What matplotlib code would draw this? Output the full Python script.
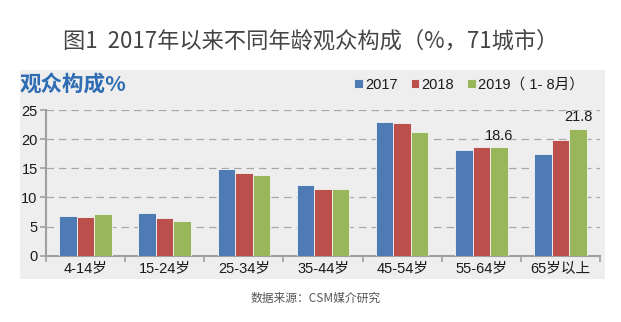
import matplotlib
matplotlib.use("Agg")
import matplotlib.pyplot as plt
import numpy as np
from matplotlib.patches import Rectangle

plt.rcParams['font.family'] = ['Noto Sans CJK SC', 'DejaVu Sans']
ARIAL = ['Liberation Sans', 'Noto Sans CJK SC']

categories = ["4-14岁", "15-24岁", "25-34岁", "35-44岁", "45-54岁", "55-64岁", "65岁以上"]
series_names = ["2017", "2018", "2019（ 1- 8月）"]
v2017 = [6.8, 7.4, 14.9, 12.1, 22.9, 18.2, 17.4]
v2018 = [6.7, 6.5, 14.2, 11.5, 22.7, 18.7, 19.8]
v2019 = [7.1, 5.9, 13.8, 11.4, 21.3, 18.6, 21.8]
yticks = [0, 5, 10, 15, 20, 25]
colors = ["#4F7BB5", "#BA4F4B", "#9AB65A"]

W, H = 621, 322
fig = plt.figure(figsize=(W / 100, H / 100), dpi=100)
fig.patch.set_facecolor("white")

# grey panel
fig.patches.append(Rectangle((20 / W, 1 - 279 / H), 585 / W, 209 / H,
                             transform=fig.transFigure, facecolor="#EEEEEE",
                             edgecolor="none", zorder=0))

ax = fig.add_axes([46 / W, 1 - 255.7 / H, 554 / W, (255.7 - 110) / H])
ax.set_facecolor("none")
ax.set_zorder(2)

x = np.arange(len(categories))
bw = 0.222
for i, (vals, c, name) in enumerate(zip([v2017, v2018, v2019], colors, series_names)):
    ax.bar(x + (i - 1) * bw, vals, width=bw, color=c, edgecolor="#F4F4F4",
           linewidth=0.6, label=name, zorder=3)

# data labels
for idx in [5, 6]:
    ax.annotate(f"{v2019[idx]}", xy=(x[idx] + bw, v2019[idx]), xytext=(0, 3),
                textcoords="offset points", ha="center", va="bottom",
                fontsize=10.5, color="#1a1a1a", family=ARIAL)

ax.set_xlim(-0.5, len(categories) - 0.5)
ax.set_ylim(0, 25)
ax.set_yticks(yticks)
ax.set_yticklabels([str(t) for t in yticks], fontsize=10.5, color="#1a1a1a", family=ARIAL)
ax.yaxis.grid(True, linestyle=(0, (6, 4)), color="#A8A8A8", linewidth=0.9, zorder=0)
ax.set_axisbelow(True)

ax.set_xticks(np.arange(len(categories) + 1) - 0.5, minor=True)
ax.set_xticks(x)
ax.set_xticklabels(categories, fontsize=10.5, color="#1a1a1a", family=ARIAL)
ax.tick_params(axis="x", which="major", length=0, pad=4)
ax.tick_params(axis="x", which="minor", length=4, color="#A0A0A0", width=1.2)
ax.tick_params(axis="y", length=4, color="#A0A0A0", width=1.2, pad=2)

for s in ["top", "right"]:
    ax.spines[s].set_visible(False)
for s in ["left", "bottom"]:
    ax.spines[s].set_color("#A0A0A0")
    ax.spines[s].set_linewidth(1.5)

leg = fig.legend(loc="center", bbox_to_anchor=(469 / W, 1 - 85 / H), ncol=3,
                 frameon=False, prop={'family': ARIAL, 'size': 10.5},
                 handlelength=0.6, handleheight=0.6,
                 handletextpad=0.15, columnspacing=0.9, borderaxespad=0)
for t in leg.get_texts():
    t.set_color("#1a1a1a")

fig.text(20 / W, 1 - 84 / H, "观众构成%", fontsize=15.5, fontweight="bold",
         color="#2E6DB4", ha="left", va="center")

fig.text(311 / W, 1 - 41 / H, "图1  2017年以来不同年龄观众构成（%，71城市）",
         fontsize=16, fontweight="light", color="#444444", ha="center", va="center")

fig.text(316 / W, 1 - 298 / H, "数据来源：CSM媒介研究", fontsize=8.5,
         color="#555555", ha="center", va="center")

fig.savefig("out.png", dpi=100)
